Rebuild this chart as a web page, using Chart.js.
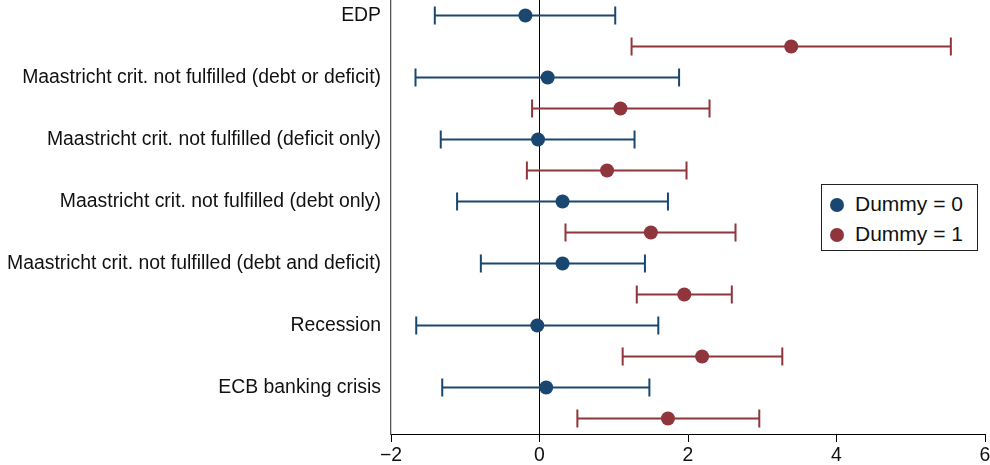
<!DOCTYPE html>
<html>
<head>
<meta charset="utf-8">
<script src="https://cdn.jsdelivr.net/npm/chart.js@4.4.0/dist/chart.umd.min.js"></script>
<style>
  html, body { margin: 0; padding: 0; background: #fff; }
  #wrap { position: relative; width: 990px; height: 465px; }
  #legend {
    position: absolute; left: 821px; top: 184px; width: 155px; height: 65px;
    border: 1px solid #222; background: #fff;
    font-family: "Liberation Sans", Arial, sans-serif; font-size: 21px; color: #111;
  }
  #legend .row { position: absolute; left: 8px; height: 24px; line-height: 24px; white-space: nowrap; }
  #legend .dot { display: inline-block; width: 14px; height: 14px; border-radius: 50%; vertical-align: -1px; margin-right: 11px; }
</style>
</head>
<body>
<div id="wrap">
  <canvas id="c" width="990" height="465"></canvas>
  <div id="legend"></div>
</div>
<script>
// Coefficient estimates with confidence intervals, by event and dummy value
const categories = [
  "EDP",
  "Maastricht crit. not fulfilled (debt or deficit)",
  "Maastricht crit. not fulfilled (deficit only)",
  "Maastricht crit. not fulfilled (debt only)",
  "Maastricht crit. not fulfilled (debt and deficit)",
  "Recession",
  "ECB banking crisis"
];
const seriesNames = ["Dummy = 0", "Dummy = 1"];
const seriesColors = ["#1a476f", "#90353b"];

const dummy0    = [-0.19,  0.11, -0.02,  0.31,  0.31, -0.03,  0.09];
const dummy0Low = [-1.41, -1.67, -1.33, -1.11, -0.79, -1.66, -1.31];
const dummy0High= [ 1.02,  1.88,  1.28,  1.73,  1.42,  1.60,  1.48];

const dummy1    = [ 3.39,  1.09,  0.91,  1.50,  1.95,  2.19,  1.73];
const dummy1Low = [ 1.24, -0.10, -0.17,  0.35,  1.31,  1.12,  0.51];
const dummy1High= [ 5.54,  2.29,  1.98,  2.64,  2.59,  3.27,  2.96];

const xTicks = [-2, 0, 2, 4, 6];

const series = [
  { est: dummy0, lo: dummy0Low, hi: dummy0High },
  { est: dummy1, lo: dummy1Low, hi: dummy1High }
];

// each category takes two rows: Dummy = 0 then Dummy = 1
const rowOf = (i, s) => 2 * i + s;

const datasets = [];
series.forEach((sr, s) => {
  datasets.push({
    label: seriesNames[s],
    data: categories.map((c, i) => ({ x: sr.est[i], y: rowOf(i, s) })),
    backgroundColor: seriesColors[s],
    borderWidth: 0,
    pointRadius: 7,
    pointHoverRadius: 7,
    showLine: false,
    order: 0
  });
  categories.forEach((c, i) => {
    datasets.push({
      label: "_ci",
      data: [{ x: sr.lo[i], y: rowOf(i, s) }, { x: sr.hi[i], y: rowOf(i, s) }],
      showLine: true,
      borderColor: seriesColors[s],
      borderWidth: 2,
      pointStyle: "line",
      pointRotation: 90,
      pointRadius: 9,
      pointHoverRadius: 9,
      pointBorderColor: seriesColors[s],
      pointBorderWidth: 2,
      fill: false,
      order: 1
    });
  });
});

const FONT = "'Liberation Sans', Arial, sans-serif";

new Chart(document.getElementById("c"), {
  type: "scatter",
  data: { datasets },
  options: {
    responsive: false,
    animation: false,
    layout: { autoPadding: false, padding: { left: 0, right: 5, top: 0, bottom: 0 } },
    plugins: { legend: { display: false }, tooltip: { enabled: false } },
    scales: {
      x: {
        type: "linear",
        min: -2, max: 6,
        afterBuildTicks: (scale) => { scale.ticks = xTicks.map(v => ({ value: v })); },
        afterFit: (scale) => {
          scale.height = 31;
          scale.paddingLeft = 0; scale.paddingRight = 0;
        },
        ticks: {
          color: "#111",
          font: { family: FONT, size: 19.4 },
          padding: 2,
          maxRotation: 0,
          callback: (v) => (v < 0 ? "\u2212" + Math.abs(v) : String(v))
        },
        grid: {
          color: (ctx) => (ctx.tick && ctx.tick.value === 0 ? "#000" : "rgba(0,0,0,0)"),
          tickColor: "#000",
          tickLength: 8,
          lineWidth: 1
        },
        border: { color: "#000", width: 1 }
      },
      y: {
        type: "linear",
        reverse: true,
        min: -0.5, max: 13.5,
        afterBuildTicks: (scale) => { scale.ticks = categories.map((c, i) => ({ value: rowOf(i, 0) })); },
        afterFit: (scale) => {
          scale.width = 391;
          scale.paddingTop = 0; scale.paddingBottom = 0;
        },
        ticks: {
          color: "#111",
          font: { family: FONT, size: 19.4 },
          padding: 10,
          autoSkip: false,
          callback: (v) => categories[v / 2]
        },
        grid: { drawOnChartArea: false, drawTicks: false, tickLength: 0, color: "rgba(0,0,0,0)" },
        border: { color: "#555", width: 1.3 }
      }
    }
  }
});

// legend box inside the plot
const legend = document.getElementById("legend");
seriesNames.forEach((name, s) => {
  const row = document.createElement("div");
  row.className = "row";
  row.style.top = (7 + s * 30) + "px";
  row.innerHTML = '<span class="dot" style="background:' + seriesColors[s] + '"></span>' + name;
  legend.appendChild(row);
});
</script>
</body>
</html>
